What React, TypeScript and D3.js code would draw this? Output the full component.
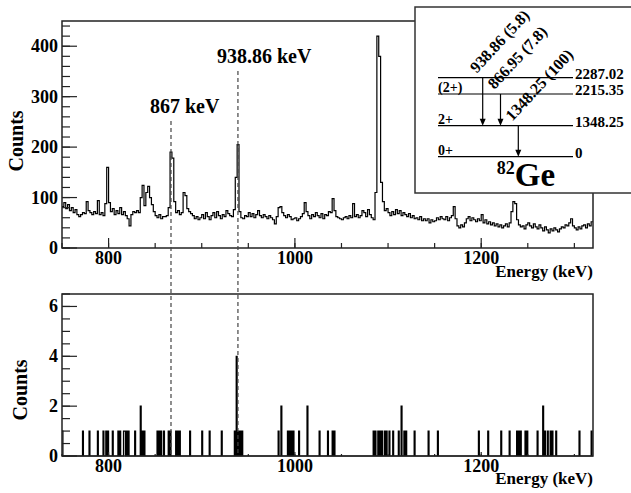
import React from "react";
import * as d3 from "d3";

// upper spectrum: singles, 2 keV bins starting at 750 keV
const binStart = 750;
const binWidth = 2;
const topCounts = [
  82, 90, 78, 86, 74, 80, 70, 76, 66, 62,
  66, 70, 68, 92, 74, 70, 66, 72, 68, 94,
  66, 70, 64, 88, 160, 90, 72, 78, 66, 74,
  68, 80, 66, 72, 64, 58, 44, 66, 72, 70,
  74, 70, 100, 124, 84, 110, 122, 100, 86, 72,
  64, 60, 66, 58, 62, 62, 64, 80, 190, 178,
  92, 70, 74, 66, 70, 110, 104, 78, 72, 68,
  64, 58, 62, 56, 60, 66, 58, 70, 62, 56,
  64, 70, 60, 72, 64, 58, 66, 62, 74, 68,
  64, 62, 76, 140, 205, 72, 60, 58, 64, 62,
  70, 62, 68, 60, 66, 74, 64, 60, 66, 62,
  58, 64, 60, 56, 48, 62, 80, 82, 70, 64,
  60, 66, 62, 56, 58, 60, 54, 58, 62, 68,
  90, 72, 64, 58, 66, 62, 70, 64, 60, 68,
  58, 66, 64, 72, 70, 98, 74, 62, 60, 58,
  56, 60, 62, 58, 64, 60, 88, 62, 66, 60,
  64, 74, 70, 62, 76, 66, 60, 56, 110, 420,
  380, 130, 92, 74, 78, 70, 64, 72, 66, 76,
  68, 74, 64, 70, 66, 62, 68, 60, 64, 58,
  60, 56, 62, 54, 58, 54, 58, 50, 56, 52,
  54, 60, 56, 62, 58, 56, 62, 54, 60, 64,
  82, 58, 44, 40, 46, 42, 50, 58, 62, 54,
  60, 56, 52, 58, 54, 66, 50, 56, 48, 52,
  46, 50, 44, 48, 42, 46, 40, 44, 48, 42,
  50, 72, 92, 88, 56, 46, 42, 44, 38, 46,
  50, 44, 40, 48, 42, 38, 46, 40, 34, 42,
  36, 30, 38, 34, 40, 36, 32, 38, 42, 40,
  46, 44, 50, 58, 44, 40, 36, 42, 38, 44,
  46, 40, 48, 44, 52,
];

// lower spectrum: gated coincidences, [energy keV, counts] in 1 keV bins
const coincEvents: [number, number][] = [
  [750, 1], [772, 1], [779, 1], [788, 1], [794, 1], [797, 1], [799, 1], [804, 1],
  [810, 1], [812, 1], [816, 1], [817, 1], [819, 1], [821, 1], [828, 1], [834, 2],
  [836, 1], [838, 1], [852, 1], [854, 1], [856, 1], [859, 1], [864, 1], [866, 1],
  [872, 1], [874, 1], [876, 1], [887, 1], [900, 1], [908, 1], [921, 1], [935, 1],
  [937, 4], [939, 1], [941, 1], [943, 1], [982, 1], [985, 2], [992, 1], [994, 1],
  [996, 1], [998, 1], [1004, 1], [1013, 2], [1026, 1], [1035, 1], [1040, 1], [1042, 1],
  [1084, 1], [1086, 1], [1089, 1], [1091, 1], [1093, 1], [1096, 1], [1098, 1], [1101, 1],
  [1105, 1], [1111, 1], [1114, 2], [1117, 1], [1119, 1], [1128, 1], [1143, 1], [1153, 1],
  [1197, 1], [1207, 1], [1221, 1], [1230, 1], [1238, 1], [1240, 1], [1242, 1], [1247, 1],
  [1249, 1], [1260, 1], [1266, 2], [1268, 1], [1271, 1], [1274, 1], [1276, 1], [1280, 1],
  [1305, 1], [1318, 1],
];

const peakMarks = [
  { e: 867, label: "867 keV", top: 121 },
  { e: 938.86, label: "938.86 keV", top: 71 },
];

const xMajor = [800, 1000, 1200];
const yTopMajor = [0, 100, 200, 300, 400];
const yBotMajor = [0, 2, 4, 6];

// 82Ge level scheme
const levels = [
  { e: 2287.02, spin: "" },
  { e: 2215.35, spin: "(2+)" },
  { e: 1348.25, spin: "2+" },
  { e: 0, spin: "0+" },
];
const gammas = [
  { label: "938.86 (5.8)", from: 2287.02, to: 1348.25 },
  { label: "866.95 (7.8)", from: 2215.35, to: 1348.25 },
  { label: "1348.25 (100)", from: 1348.25, to: 0 },
];

const font = "'Liberation Serif', 'Times New Roman', serif";

const App = () => {
  const left = 62;
  const right = 593;
  const top1 = 21, bot1 = 248;
  const top2 = 294, bot2 = 456;

  const x = d3.scaleLinear().domain([750, 1320]).range([left, right]);
  const yTop = d3.scaleLinear().domain([0, 450]).range([bot1, top1]);
  const yBot = d3.scaleLinear().domain([0, 6.5]).range([bot2, top2]);

  const step = (bins: { e: number; c: number }[], w: number, y: d3.ScaleLinear<number, number>) => {
    const pts: [number, number][] = bins.flatMap((b) => [
      [x(b.e), y(b.c)] as [number, number],
      [x(b.e + w), y(b.c)] as [number, number],
    ]);
    return d3.line()(pts) || "";
  };

  const topBins = topCounts.map((c, i) => ({ e: binStart + i * binWidth, c }));
  const coincMap = new Map(coincEvents);
  const botBins = d3.range(750, 1320).map((e) => ({ e, c: coincMap.get(e) || 0 }));

  const xMinor = d3.range(750, 1321, 50);
  const yTopMinor = d3.range(0, 451, 20);
  const yBotMinor = d3.range(0, 6.51, 0.5);

  // inset scales (schematic level spacing)
  const ly = d3
    .scaleLinear()
    .domain(levels.map((l) => l.e))
    .range([77.7, 94, 125.7, 156.7]);
  const gx = d3.scalePoint().domain(gammas.map((g) => g.label)).range([482.7, 518.3]);
  const lvlX0 = 438, lvlX1 = 573;

  const axisText = { fontFamily: font, fontWeight: "bold" as const, fill: "#000" };

  const panelAxes = (
    y: d3.ScaleLinear<number, number>,
    yMajor: number[],
    yMinor: number[],
    yTop: number,
    yBottom: number,
    xTickMaj: number,
    xTickMin: number
  ) => (
    <g>
      <rect x={left} y={yTop} width={right - left} height={yBottom - yTop} fill="none" stroke="#222" strokeWidth={1.5} />
      {yMinor.map((v) => (
        <line key={"ym" + v} x1={left} x2={left + 8} y1={y(v)} y2={y(v)} stroke="#222" strokeWidth={1.2} />
      ))}
      {yMajor.map((v) => (
        <g key={"yM" + v}>
          <line x1={left} x2={left + 15} y1={y(v)} y2={y(v)} stroke="#222" strokeWidth={1.2} />
          <text x={left - 4} y={y(v) + 6} textAnchor="end" fontSize={18} {...axisText}>
            {v}
          </text>
        </g>
      ))}
      {xMinor.map((v) => (
        <line key={"xm" + v} x1={x(v)} x2={x(v)} y1={yBottom} y2={yBottom - xTickMin} stroke="#222" strokeWidth={1.2} />
      ))}
      {xMajor.map((v) => (
        <g key={"xM" + v}>
          <line x1={x(v)} x2={x(v)} y1={yBottom} y2={yBottom - xTickMaj} stroke="#222" strokeWidth={1.2} />
          <text x={x(v)} y={yBottom + 16} textAnchor="middle" fontSize={18} {...axisText}>
            {v}
          </text>
        </g>
      ))}
    </g>
  );

  return (
    <svg width={631} height={493} style={{ position: "absolute", left: 0, top: 0, background: "#fff" }}>
      {/* upper panel */}
      <path d={step(topBins, binWidth, yTop)} fill="none" stroke="#000" strokeWidth={1.2} />
      {panelAxes(yTop, yTopMajor, yTopMinor, top1, bot1, 10, 5)}
      <text transform={`translate(23,141) rotate(-90)`} textAnchor="middle" fontSize={20} {...axisText}>
        Counts
      </text>
      <text x={right} y={277} textAnchor="end" fontSize={17} {...axisText}>
        Energy (keV)
      </text>

      {/* lower panel */}
      <path d={step(botBins, 1, yBot)} fill="none" stroke="#000" strokeWidth={1.2} />
      {panelAxes(yBot, yBotMajor, yBotMinor, top2, bot2, 4, 2)}
      <text transform={`translate(27,390) rotate(-90)`} textAnchor="middle" fontSize={20} {...axisText}>
        Counts
      </text>
      <text x={right} y={484} textAnchor="end" fontSize={17} {...axisText}>
        Energy (keV)
      </text>

      {/* dashed peak markers spanning both panels */}
      {peakMarks.map((p) => (
        <g key={p.label}>
          <line x1={x(p.e)} x2={x(p.e)} y1={p.top} y2={bot2} stroke="#444" strokeWidth={1.2} strokeDasharray="4,3" />
          <text x={x(p.e) - 21} y={p.top - 8} fontSize={20} {...axisText}>
            {p.label}
          </text>
        </g>
      ))}

      {/* inset level scheme */}
      <rect x={415} y={7} width={240} height={186} fill="#fff" stroke="#333" strokeWidth={1.5} />
      {levels.map((l) => (
        <g key={l.e}>
          <line x1={lvlX0} x2={lvlX1} y1={ly(l.e)} y2={ly(l.e)} stroke="#000" strokeWidth={1.2} />
          <text x={lvlX1 + 2} y={ly(l.e) + 1} fontSize={15} {...axisText}>
            {l.e === 0 ? "0" : l.e.toFixed(2)}
          </text>
          {l.spin && (
            <text x={lvlX0} y={ly(l.e) - 2} fontSize={14} {...axisText}>
              {l.spin}
            </text>
          )}
        </g>
      ))}
      {gammas.map((g) => {
        const gxv = gx(g.label) as number;
        const y0 = ly(g.from);
        const y1 = ly(g.to);
        return (
          <g key={g.label}>
            <line x1={gxv} x2={gxv} y1={y0} y2={y1 - 5} stroke="#000" strokeWidth={1.2} />
            <path d={`M${gxv - 3},${y1 - 7}L${gxv + 3},${y1 - 7}L${gxv},${y1}Z`} fill="#000" />
            <text transform={`translate(${gxv - 6},${y0 - 4}) rotate(-47)`} fontSize={16} {...axisText}>
              {g.label}
            </text>
          </g>
        );
      })}
      <text x={526} y={186} textAnchor="middle" {...axisText}>
        <tspan fontSize={18} dy={-12}>82</tspan>
        <tspan fontSize={33} dy={12}>Ge</tspan>
      </text>
    </svg>
  );
};

export default App;
